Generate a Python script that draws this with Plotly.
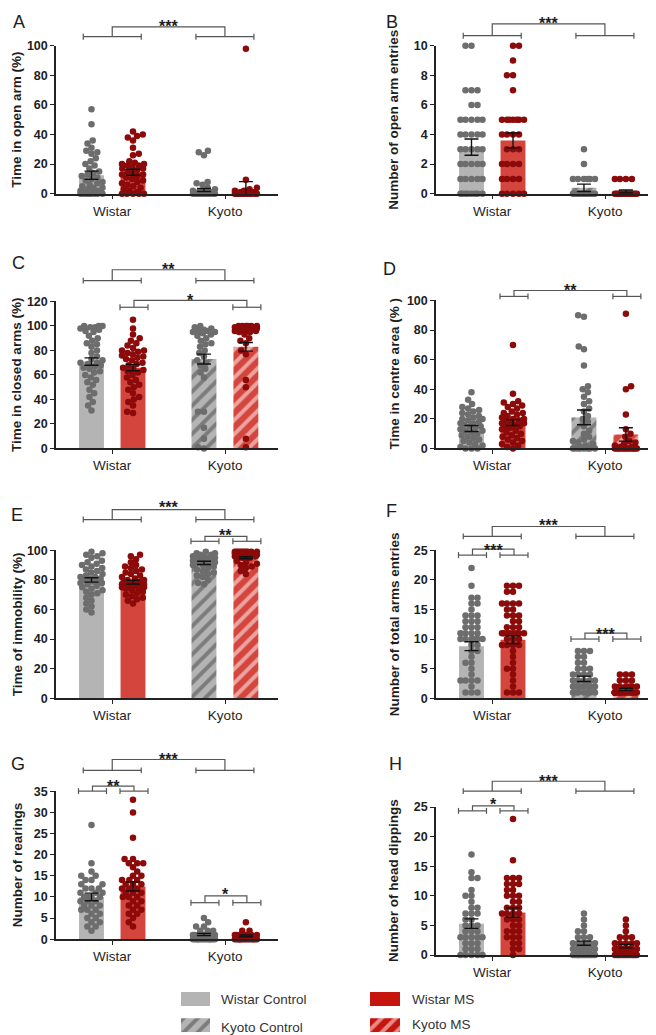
import math
import plotly.graph_objects as go

W, H = 656, 1035
FONT = "Liberation Sans, Arial, sans-serif"

# ---------------- categories ----------------
group_names = ["Wistar Control", "Wistar MS", "Kyoto Control", "Kyoto MS"]
bar_x = [1.0, 2.0, 3.71, 4.72]
strain_ticks = [1.5, 4.22]
strain_labels = ["Wistar", "Kyoto"]

# ---------------- data ----------------
# A: Time in open arm (%)
A_mean = [12.5, 14.5, 2.5, 3.3]
A_sem = [2.8, 2.0, 1.0, 4.9]
A_wc = [57, 47, 36, 34, 31, 29, 28, 27, 24, 22, 20, 19, 17, 15, 14, 13, 12, 11, 10, 9, 8, 7, 6, 5, 4, 4, 3, 2, 2, 1, 1, 1, 0, 0, 0, 0, 0, 0, 0, 0, 0]
A_wms = [42, 40, 39, 38, 36, 31, 27, 26, 22, 21, 20, 20, 19, 19, 18, 17, 17, 16, 15, 14, 13, 13, 12, 11, 10, 9, 8, 7, 6, 5, 4, 3, 2, 1, 0, 0, 0, 0, 0]
A_kc = [29, 28, 26, 8, 7, 6, 4, 3, 2, 2, 1, 1, 1, 0, 0, 0, 0, 0, 0, 0, 0, 0, 0, 0, 0]
A_kms = [98, 9.5, 4, 3, 2, 2, 1, 1, 0, 0, 0, 0, 0, 0, 0, 0, 0, 0, 0, 0]

# B: Number of open arm entries
B_mean = [3.15, 3.6, 0.4, 0.15]
B_sem = [0.55, 0.5, 0.25, 0.1]
B_wc = [10, 10, 7, 7, 7, 6, 6, 5, 5, 5, 5, 5, 4, 4, 4, 4, 4, 3, 3, 3, 3, 3, 2, 2, 2, 2, 2, 1, 1, 1, 1, 1, 0, 0, 0, 0, 0, 0, 0, 0]
B_wms = [10, 10, 9, 8, 8, 7, 5, 5, 5, 5, 5, 5, 5, 4, 4, 4, 4, 3, 3, 3, 2, 2, 2, 2, 1, 1, 1, 1, 0, 0, 0, 0, 0]
B_kc = [3, 2, 1, 1, 1, 1, 1, 1, 0, 0, 0, 0, 0, 0, 0, 0, 0, 0, 0, 0, 0, 0]
B_kms = [1, 1, 1, 1, 0, 0, 0, 0, 0, 0, 0, 0, 0, 0, 0, 0, 0, 0]

# C: Time in closed arms (%)
C_mean = [71, 66, 73, 83]
C_sem = [3.0, 2.5, 4.0, 3.5]
C_wc = [100, 100, 100, 99, 99, 98, 97, 96, 95, 92, 90, 88, 86, 85, 83, 80, 78, 75, 73, 72, 70, 70, 69, 68, 67, 66, 65, 63, 62, 60, 58, 56, 54, 52, 48, 45, 42, 38, 35, 31]
C_wms = [105, 98, 93, 90, 88, 86, 84, 82, 80, 80, 79, 78, 77, 76, 75, 74, 73, 72, 70, 69, 68, 66, 65, 64, 63, 62, 60, 58, 56, 54, 52, 50, 48, 45, 42, 40, 38, 35, 30, 29]
C_kc = [100, 99, 98, 97, 96, 96, 95, 95, 94, 93, 92, 90, 88, 86, 85, 83, 80, 78, 75, 72, 70, 68, 65, 62, 58, 30, 30, 17, 8, 1, 0]
C_kms = [100, 100, 100, 100, 100, 100, 99, 99, 99, 99, 98, 98, 98, 98, 97, 97, 97, 96, 96, 95, 95, 93, 90, 88, 86, 80, 77, 56, 50, 8, 1]

# D: Time in centre area (%)
D_mean = [13.5, 17.5, 21, 9.5]
D_sem = [2.0, 2.0, 5.0, 4.5]
D_wc = [38, 33, 30, 28, 27, 26, 25, 24, 23, 22, 21, 20, 20, 19, 18, 17, 17, 16, 15, 15, 14, 13, 12, 12, 11, 10, 9, 8, 7, 6, 5, 4, 3, 2, 1, 0, 0, 0]
D_wms = [70, 37, 32, 31, 30, 29, 28, 27, 25, 24, 24, 23, 22, 21, 20, 20, 19, 19, 18, 17, 17, 16, 15, 15, 14, 13, 12, 11, 10, 9, 8, 7, 6, 5, 4, 3, 2, 1, 0]
D_kc = [90, 89, 69, 67, 56, 42, 40, 38, 35, 32, 30, 27, 25, 22, 20, 18, 15, 12, 10, 8, 6, 5, 4, 3, 2, 1, 0, 0, 0, 0, 0, 0, 0, 0]
D_kms = [91, 42, 40, 23, 13, 10, 8, 5, 4, 3, 2, 1, 1, 0, 0, 0, 0, 0, 0, 0, 0, 0, 0, 0, 0, 0]

# E: Time of immobility (%)
E_mean = [80, 78.5, 91.5, 95]
E_sem = [1.5, 1.3, 1.1, 0.7]
E_wc = [99, 98, 97, 96, 95, 93, 92, 91, 90, 89, 88, 87, 86, 85, 84, 83, 82, 82, 81, 81, 80, 80, 79, 79, 78, 78, 77, 76, 75, 74, 73, 72, 71, 70, 68, 66, 64, 62, 60, 58]
E_wms = [97, 96, 94, 92, 90, 89, 88, 87, 86, 85, 84, 83, 82, 81, 80, 80, 79, 79, 78, 78, 78, 77, 77, 77, 76, 76, 76, 75, 75, 74, 74, 73, 72, 71, 70, 69, 68, 67, 66, 64]
E_kc = [99, 98, 98, 97, 97, 96, 96, 95, 95, 95, 94, 94, 93, 93, 92, 92, 91, 90, 90, 89, 88, 87, 86, 85, 84, 83, 82, 80, 78, 77]
E_kms = [99, 99, 99, 99, 99, 99, 99, 99, 99, 99, 98, 98, 98, 98, 98, 98, 98, 98, 97, 97, 97, 97, 97, 96, 96, 96, 95, 95, 93, 92, 91, 90, 89, 88, 86, 84]

# F: Number of total arms entries
F_mean = [8.8, 9.9, 3.3, 1.5]
F_sem = [0.75, 0.65, 0.45, 0.2]
F_wc = [22, 19, 17, 17, 16, 16, 15, 14, 14, 14, 13, 13, 13, 12, 12, 12, 11, 11, 11, 11, 10, 10, 10, 10, 10, 10, 9, 9, 8, 8, 7, 6, 6, 5, 4, 3, 3, 3, 3, 2, 1, 1, 1]
F_wms = [19, 19, 19, 18, 18, 16, 16, 16, 16, 15, 15, 14, 14, 14, 13, 13, 12, 12, 12, 11, 11, 11, 11, 11, 11, 11, 11, 10, 10, 10, 9, 9, 9, 9, 8, 7, 6, 5, 5, 4, 3, 2, 1, 1, 1]
F_kc = [8, 8, 8, 7, 7, 6, 6, 5, 5, 5, 4, 4, 4, 4, 3, 3, 3, 3, 3, 2, 2, 2, 2, 2, 2, 2, 2, 1, 1, 1, 1, 1, 1]
F_kms = [4, 4, 4, 3, 3, 3, 2, 2, 2, 2, 2, 2, 1, 1, 1, 1, 1, 1, 1, 1, 1, 1, 1, 1, 1, 1, 1, 1, 1, 1, 1, 1]

# G: Number of rearings
G_mean = [10, 12.5, 1.1, 0.8]
G_sem = [0.9, 1.1, 0.25, 0.2]
G_wc = [27, 18, 16, 15, 15, 14, 14, 13, 13, 12, 12, 12, 11, 11, 11, 10, 10, 10, 10, 9, 9, 9, 8, 8, 8, 7, 7, 7, 6, 6, 5, 5, 4, 4, 3, 3, 2]
G_wms = [33, 30, 24, 19, 19, 18, 18, 18, 17, 16, 15, 15, 14, 14, 14, 13, 13, 13, 12, 12, 12, 11, 11, 11, 10, 10, 10, 9, 9, 8, 8, 7, 7, 6, 6, 5, 4, 3]
G_kc = [5, 4, 3, 3, 2, 2, 2, 1, 1, 1, 1, 1, 1, 1, 1, 0, 0, 0, 0, 0, 0, 0, 0, 0, 0, 0, 0, 0, 0, 0]
G_kms = [4, 2, 2, 1, 1, 1, 1, 1, 1, 1, 1, 0, 0, 0, 0, 0, 0, 0, 0, 0, 0, 0, 0, 0, 0]

# H: Number of head dippings
H_mean = [5.3, 7.2, 2.0, 1.5]
H_sem = [0.8, 0.8, 0.35, 0.3]
H_wc = [17, 14, 13, 13, 11, 10, 10, 9, 8, 8, 7, 7, 7, 6, 6, 5, 5, 5, 4, 4, 4, 3, 3, 3, 3, 3, 2, 2, 2, 1, 1, 1, 0, 0, 0, 0, 0]
H_wms = [23, 16, 13, 13, 13, 12, 12, 12, 11, 11, 10, 10, 10, 9, 9, 8, 8, 8, 7, 7, 7, 7, 6, 6, 6, 5, 5, 4, 4, 4, 3, 3, 3, 2, 2, 1, 1, 0]
H_kc = [7, 6, 5, 4, 4, 3, 3, 3, 2, 2, 2, 2, 2, 2, 1, 1, 1, 1, 1, 1, 1, 0, 0, 0, 0, 0, 0, 0, 0, 0, 0, 0, 0, 0, 0]
H_kms = [6, 5, 4, 3, 3, 3, 2, 2, 2, 2, 2, 1, 1, 1, 1, 1, 1, 1, 1, 0, 0, 0, 0, 0, 0, 0, 0, 0, 0, 0, 0, 0]

# ---------------- styling ----------------
bar_colors = ["#b4b4b4", "#d4463d", "#b4b4b4", "#d4463d"]
bar_patterns = ["", "", "/", "/"]
dot_colors = ["#6d6d6d", "#8c0a0a", "#6d6d6d", "#8c0a0a"]
legend_colors = ["#b4b4b4", "#c8140f", "#b4b4b4", "#c8140f"]
legend_patterns = ["", "", "/", "/"]
TXT = "#1e1e1e"
BRK = "#555555"

X_RANGE = [0.145, 5.494]
COL_X = [48, 428]          # pixel x of y-axis per column
PLOT_W = 222               # pixel width of each plot
PXU = PLOT_W / (X_RANGE[1] - X_RANGE[0])

panels = [
    dict(letter="A", title="Time in open arm (%)", mean=A_mean, sem=A_sem, dots=[A_wc, A_wms, A_kc, A_kms],
         ymax=100, dtick=20, col=0, top=32, bot=182, lxy=(11, 8),
         br=[((0, 1), (2, 3), 9, 19, 24, "***")]),
    dict(letter="B", title="Number of open arm entries", mean=B_mean, sem=B_sem, dots=[B_wc, B_wms, B_kc, B_kms],
         ymax=10, dtick=2, col=1, top=32, bot=182, lxy=(384, 8),
         br=[((0, 1), (2, 3), 10, 22, 27, "***")]),
    dict(letter="C", title="Time in closed arms (%)", mean=C_mean, sem=C_sem, dots=[C_wc, C_wms, C_kc, C_kms],
         ymax=120, dtick=20, col=0, top=291, bot=440, lxy=(10, 252),
         br=[((0, 1), (2, 3), 21, 32, 37, "**"), ((1,), (3,), -6, 1, 6, "*")]),
    dict(letter="D", title="Time in centre area (% )", mean=D_mean, sem=D_sem, dots=[D_wc, D_wms, D_kc, D_kms],
         ymax=100, dtick=20, col=1, top=290, bot=440, lxy=(381, 258),
         br=[((1,), (3,), 4, 10, 15, "**")]),
    dict(letter="E", title="Time of immobility (%)", mean=E_mean, sem=E_sem, dots=[E_wc, E_wms, E_kc, E_kms],
         ymax=100, dtick=20, col=0, top=543, bot=693, lxy=(9, 507),
         br=[((0, 1), (2, 3), 31, 41, 48, "***"), ((2,), (3,), 9, 14, 20, "**")]),
    dict(letter="F", title="Number of total arms entries", mean=F_mean, sem=F_sem, dots=[F_wc, F_wms, F_kc, F_kms],
         ymax=25, dtick=5, col=1, top=543, bot=693, lxy=(383, 503),
         br=[((0, 1), (2, 3), 14, 24, 30, "***"), ((0,), (1,), -5, 1, 5, "***"), ((2,), (3,), -90, -84, -80, "***")]),
    dict(letter="G", title="Number of rearings", mean=G_mean, sem=G_sem, dots=[G_wc, G_wms, G_kc, G_kms],
         ymax=35, dtick=5, col=0, top=787, bot=937, lxy=(10, 760),
         br=[((0, 1), (2, 3), 21, 32, 37, "***"), ((0,), (1,), 0, 5, 10, "**"), ((2,), (3,), -113, -106, -100, "*")]),
    dict(letter="H", title="Number of head dippings", mean=H_mean, sem=H_sem, dots=[H_wc, H_wms, H_kc, H_kms],
         ymax=25, dtick=5, col=1, top=803, bot=953, lxy=(387, 760),
         br=[((0, 1), (2, 3), 16, 26, 31, "***"), ((0,), (1,), -4, 1, 7, "*")]),
]


def swarm(vals, px_per_unit, d=6.0, cap=11.0):
    """Beeswarm offsets (pixels) for a list of values."""
    order = sorted(range(len(vals)), key=lambda i: vals[i])
    placed = []
    offs = [0.0] * len(vals)
    flip = 1
    for i in order:
        y = vals[i] * px_per_unit
        neigh = [(px, py) for (px, py) in placed if abs(py - y) < d]
        cands = [0.0]
        for px, py in neigh:
            dx = math.sqrt(max(d * d - (py - y) ** 2, 0))
            cands += [px + dx, px - dx]

        def ok(x):
            return all((x - px) ** 2 + (y - py) ** 2 >= d * d - 1e-6 for px, py in neigh)

        feas = [c for c in cands if abs(c) <= cap + 1e-9 and ok(c)]
        if feas:
            x = min(feas, key=lambda c: (round(abs(c), 4), -flip * c))
        else:
            grid = [-cap + k * (2 * cap) / 12 for k in range(13)]
            x = max(grid, key=lambda g: min([(g - px) ** 2 + (y - py) ** 2 for px, py in neigh] or [1e9]))
        flip = -flip
        placed.append((x, y))
        offs[i] = x
    return offs


def px2x(px):
    return px / W


def px2y(py):
    return 1 - py / H


fig = go.Figure()
shapes = []
annotations = []
layout_axes = {}

for k, p in enumerate(panels, start=1):
    xa = "x" if k == 1 else f"x{k}"
    ya = "y" if k == 1 else f"y{k}"
    xname = "xaxis" if k == 1 else f"xaxis{k}"
    yname = "yaxis" if k == 1 else f"yaxis{k}"
    x0 = COL_X[p["col"]]
    layout_axes[xname] = dict(
        domain=[px2x(x0), px2x(x0 + PLOT_W)], range=X_RANGE, anchor=ya,
        tickmode="array", tickvals=strain_ticks, ticktext=strain_labels,
        ticks="outside", ticklen=4, tickwidth=1.3, tickcolor="#222",
        showline=True, linecolor="#222", linewidth=1.5, showgrid=False, zeroline=False,
        tickfont=dict(family=FONT, size=13.5, color=TXT), fixedrange=True,
    )
    layout_axes[yname] = dict(
        domain=[px2y(p["bot"]), px2y(p["top"])], range=[0, p["ymax"] * 1.001], anchor=xa,
        tickmode="linear", tick0=0, dtick=p["dtick"],
        ticks="outside", ticklen=4, tickwidth=1.3, tickcolor="#222",
        showline=True, linecolor="#222", linewidth=1.5, showgrid=False, zeroline=False,
        tickfont=dict(family=FONT, size=12.5, color=TXT, weight="bold"), fixedrange=True,
    )

    # bars
    fig.add_trace(go.Bar(
        x=bar_x, y=p["mean"], width=0.6, xaxis=xa, yaxis=ya, showlegend=False,
        marker=dict(color=bar_colors, line=dict(width=0),
                    pattern=dict(shape=bar_patterns, fgcolor="white", size=10, solidity=0.4,
                                 fillmode="overlay")),
        hoverinfo="skip",
    ))
    # dots
    ppu = (p["bot"] - p["top"]) / p["ymax"]
    for g in range(4):
        vals = p["dots"][g]
        offs = swarm(vals, ppu)
        fig.add_trace(go.Scatter(
            x=[bar_x[g] + o / PXU for o in offs], y=vals, mode="markers",
            marker=dict(size=6.5, color=dot_colors[g], line=dict(width=0)),
            xaxis=xa, yaxis=ya, showlegend=False, cliponaxis=False, hoverinfo="skip",
        ))
    # error bars (SEM)
    fig.add_trace(go.Scatter(
        x=bar_x, y=p["mean"], mode="markers", marker=dict(size=1, opacity=0),
        error_y=dict(type="data", array=p["sem"], visible=True, color="#111", thickness=1.4, width=7),
        xaxis=xa, yaxis=ya, showlegend=False, hoverinfo="skip",
    ))

    # panel letter
    annotations.append(dict(text=p["letter"], x=px2x(p["lxy"][0]), y=px2y(p["lxy"][1]),
                            xref="paper", yref="paper", xanchor="center", yanchor="middle",
                            showarrow=False, font=dict(family=FONT, size=18, color=TXT)))
    # y title
    tx = 9 if p["col"] == 0 else 386
    annotations.append(dict(text=p["title"], x=px2x(tx), y=px2y((p["top"] + p["bot"]) / 2),
                            xref="paper", yref="paper", xanchor="center", yanchor="middle",
                            textangle=-90, showarrow=False,
                            font=dict(family=FONT, size=13.5, color=TXT, weight="bold")))

    # significance brackets
    def barpx(i):
        return x0 + (bar_x[i] - X_RANGE[0]) * PXU

    def lower(members, ylow):
        if len(members) == 2:
            c = (barpx(members[0]) + barpx(members[1])) / 2
            h = 29
        else:
            c = barpx(members[0]) + 1
            h = 14
        line = dict(type="line", xref="paper", yref="paper", line=dict(color=BRK, width=1.2))
        shapes.append({**line, "x0": px2x(c - h), "x1": px2x(c + h), "y0": px2y(ylow), "y1": px2y(ylow)})
        for e in (c - h, c + h):
            shapes.append({**line, "x0": px2x(e), "x1": px2x(e), "y0": px2y(ylow - 3), "y1": px2y(ylow + 3)})
        return c

    for left, right, lo, up, to, lab in p["br"]:
        ylow = p["top"] - lo
        yup = p["top"] - up
        lc = lower(left, ylow)
        rc = lower(right, ylow)
        path = (f"M {px2x(lc)} {px2y(ylow)} L {px2x(lc)} {px2y(yup)} "
                f"L {px2x(rc)} {px2y(yup)} L {px2x(rc)} {px2y(ylow)}")
        shapes.append(dict(type="path", path=path, xref="paper", yref="paper",
                           line=dict(color=BRK, width=1.2)))
        annotations.append(dict(text=lab, x=px2x((lc + rc) / 2), y=px2y(p["top"] - to + 5),
                                xref="paper", yref="paper", xanchor="center", yanchor="middle",
                                showarrow=False, font=dict(family=FONT, size=16, color=TXT, weight="bold")))

# ---------------- legend (drawn as real bars on a hidden axis) ----------------
leg_left = [173, 362, 173, 362]
fig.add_trace(go.Bar(
    orientation="h", y=[997.5, 997.5, 1024, 1024], x=[29, 30, 29, 30], base=leg_left,
    width=14, xaxis="x9", yaxis="y9", showlegend=False, hoverinfo="skip",
    marker=dict(color=legend_colors, line=dict(width=0),
                pattern=dict(shape=legend_patterns, fgcolor="white", size=10, solidity=0.4,
                             fillmode="overlay")),
))
layout_axes["xaxis9"] = dict(domain=[0, 1], range=[0, W], visible=False, fixedrange=True, anchor="y9")
layout_axes["yaxis9"] = dict(domain=[0, 55 / H], range=[1035, 980], visible=False, fixedrange=True, anchor="x9")
leg_text_xy = [(211, 998), (402, 998), (211, 1026), (402, 1023)]
for g in range(4):
    annotations.append(dict(text=group_names[g], x=px2x(leg_text_xy[g][0]), y=px2y(leg_text_xy[g][1]),
                            xref="paper", yref="paper", xanchor="left", yanchor="middle",
                            showarrow=False, font=dict(family=FONT, size=13.5, color="#333")))

fig.update_layout(
    width=W, height=H, margin=dict(l=0, r=0, t=0, b=0),
    paper_bgcolor="white", plot_bgcolor="rgba(0,0,0,0)",
    barmode="overlay", shapes=shapes, annotations=annotations,
    font=dict(family=FONT, color=TXT), **layout_axes,
)

fig.write_html("out.html")
